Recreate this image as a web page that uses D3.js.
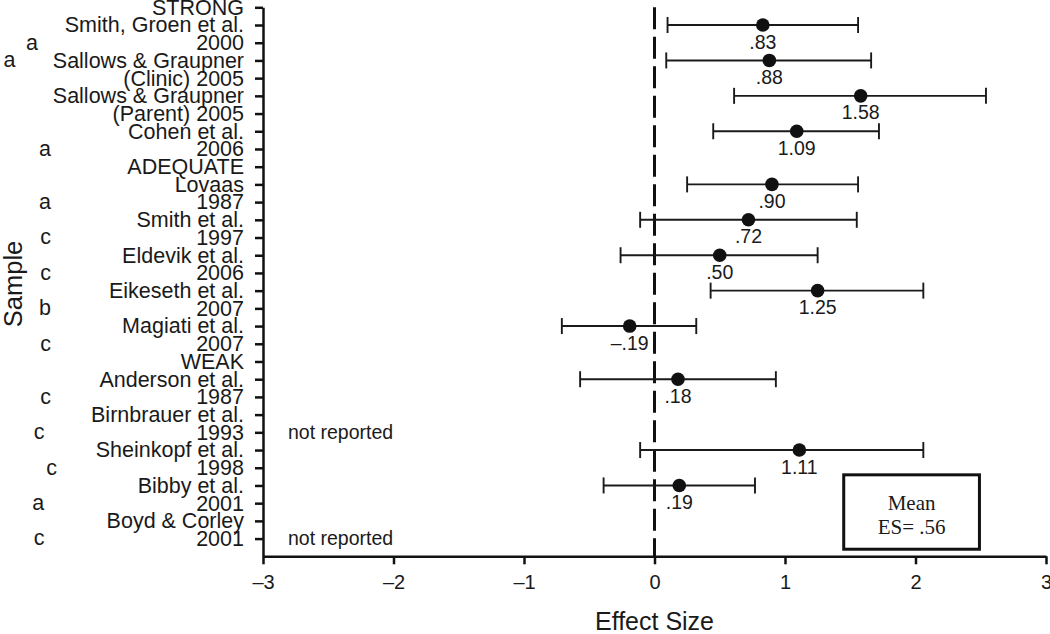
<!DOCTYPE html>
<html>
<head>
<meta charset="utf-8">
<script src="https://cdn.jsdelivr.net/npm/d3@7"></script>
<style>
  html, body { margin: 0; padding: 0; background: #fff; }
  svg { display: block; }
  text { font-family: "Liberation Sans", Arial, sans-serif; fill: #1a1a1a; }
</style>
</head>
<body>
<svg id="chart" width="1050" height="634"></svg>
<script>
// ---------- data ----------
const rowLabels = [
  "STRONG", "Smith, Groen et al.", "2000", "Sallows & Graupner", "(Clinic) 2005",
  "Sallows & Graupner", "(Parent) 2005", "Cohen et al.", "2006", "ADEQUATE",
  "Lovaas", "1987", "Smith et al.", "1997", "Eldevik et al.", "2006",
  "Eikeseth et al.", "2007", "Magiati et al.", "2007", "WEAK",
  "Anderson et al.", "1987", "Birnbrauer et al.", "1993", "Sheinkopf et al.",
  "1998", "Bibby et al.", "2001", "Boyd & Corley", "2001"
];
const studyRows   = [1, 3, 5, 7, 10, 12, 14, 16, 18, 21, 25, 27];
const effectSizes = [0.83, 0.88, 1.58, 1.09, 0.90, 0.72, 0.50, 1.25, -0.19, 0.18, 1.11, 0.19];
const ciLow       = [0.10, 0.09, 0.61, 0.45, 0.25, -0.11, -0.26, 0.43, -0.71, -0.57, -0.11, -0.39];
const ciHigh      = [1.56, 1.66, 2.54, 1.72, 1.56, 1.55, 1.25, 2.06, 0.32, 0.93, 2.06, 0.77];
const esLabels    = [".83", ".88", "1.58", "1.09", ".90", ".72", ".50", "1.25", "\u2013.19", ".18", "1.11", ".19"];
const notReportedRows = [24, 30];
const letterRows  = [2, 3, 8, 11, 13, 15, 17, 19, 22, 24, 26, 28, 30];
const letters     = ["a", "a", "a", "a", "c", "c", "b", "c", "c", "c", "c", "a", "c"];
const xTicks      = [-3, -2, -1, 0, 1, 2, 3];
const meanText    = ["Mean", "ES= .56"];

// ---------- layout ----------
const svg = d3.select("#chart");
const x = d3.scaleLinear().domain([-3, 3]).range([263, 1046]);
const y = d3.scaleLinear().domain([0, 31]).range([7.3, 556.3]);
const letterCenters = [32, 9.5, 45, 45, 45.7, 45.7, 45, 45.7, 45.7, 39, 51.7, 38.3, 39];

// dashed zero line
svg.append("line")
  .attr("x1", x(0)).attr("x2", x(0))
  .attr("y1", y(0)).attr("y2", y(31))
  .attr("stroke", "#111").attr("stroke-width", 3)
  .attr("stroke-dasharray", "22,7.5");

// y axis
const yAxis = d3.axisLeft(y)
  .tickValues(d3.range(rowLabels.length))
  .tickFormat(i => rowLabels[i])
  .tickSize(8).tickSizeOuter(0).tickPadding(11);
const gy = svg.append("g").attr("transform", `translate(${x(-3)},0)`).call(yAxis);
gy.select(".domain").attr("stroke", "#111").attr("stroke-width", 2.5);
gy.selectAll(".tick line").attr("stroke", "#111").attr("stroke-width", 2.5);
gy.selectAll(".tick text").style("font-size", "21.5px").attr("fill", "#1a1a1a")
  .attr("font-family", "Liberation Sans, Arial, sans-serif");

// x axis
const xAxis = d3.axisBottom(x)
  .tickValues(xTicks)
  .tickFormat(d => d < 0 ? "\u2013" + Math.abs(d) : String(d))
  .tickSize(8).tickSizeOuter(0).tickPadding(11);
const gx = svg.append("g").attr("transform", `translate(0,${y(31)})`).call(xAxis);
gx.select(".domain").attr("stroke", "#111").attr("stroke-width", 2.5);
gx.selectAll(".tick line").attr("stroke", "#111").attr("stroke-width", 2.5);
gx.selectAll(".tick text").style("font-size", "20px").attr("fill", "#1a1a1a")
  .attr("font-family", "Liberation Sans, Arial, sans-serif");

// axis titles
svg.append("text")
  .attr("x", x(0)).attr("y", 621)
  .attr("text-anchor", "middle").attr("dominant-baseline", "central")
  .style("font-size", "25px").text("Effect Size");
svg.append("text")
  .attr("transform", `translate(13,${284}) rotate(-90)`)
  .attr("text-anchor", "middle").attr("dominant-baseline", "central")
  .style("font-size", "25.5px").text("Sample");

// letters
svg.selectAll("text.letter").data(letterRows).enter().append("text")
  .attr("class", "letter")
  .attr("x", (d, i) => letterCenters[i])
  .attr("y", d => y(d))
  .attr("dy", "0.32em")
  .attr("text-anchor", "middle")
  .style("font-size", "21.5px")
  .text((d, i) => letters[i]);

// error bars
const idx = d3.range(studyRows.length);
const eb = svg.append("g");
const barStroke = "#1a1a1a", barWidth = 1.9;
eb.selectAll("line.ci").data(idx).enter().append("line")
  .attr("x1", i => x(ciLow[i])).attr("x2", i => x(ciHigh[i]))
  .attr("y1", i => y(studyRows[i])).attr("y2", i => y(studyRows[i]))
  .attr("stroke", barStroke).attr("stroke-width", barWidth);
eb.selectAll("line.capL").data(idx).enter().append("line")
  .attr("x1", i => x(ciLow[i])).attr("x2", i => x(ciLow[i]))
  .attr("y1", i => y(studyRows[i]) - 8).attr("y2", i => y(studyRows[i]) + 8)
  .attr("stroke", barStroke).attr("stroke-width", barWidth);
eb.selectAll("line.capR").data(idx).enter().append("line")
  .attr("x1", i => x(ciHigh[i])).attr("x2", i => x(ciHigh[i]))
  .attr("y1", i => y(studyRows[i]) - 8).attr("y2", i => y(studyRows[i]) + 8)
  .attr("stroke", barStroke).attr("stroke-width", barWidth);
eb.selectAll("circle").data(idx).enter().append("circle")
  .attr("cx", i => x(effectSizes[i])).attr("cy", i => y(studyRows[i]))
  .attr("r", 6.8).attr("fill", "#111");
eb.selectAll("text.es").data(idx).enter().append("text")
  .attr("x", i => x(effectSizes[i])).attr("y", i => y(studyRows[i] + 1) - 1)
  .attr("dy", "0.35em").attr("text-anchor", "middle")
  .style("font-size", "19.5px")
  .text(i => esLabels[i]);

// not reported
svg.selectAll("text.nr").data(notReportedRows).enter().append("text")
  .attr("x", 288).attr("y", d => y(d))
  .attr("dy", "0.32em")
  .style("font-size", "19.5px")
  .text("not reported");

// mean box
const bx0 = x(1.45), bx1 = x(2.49), by0 = y(26.4), by1 = y(30.6);
svg.append("rect")
  .attr("x", bx0).attr("y", by0).attr("width", bx1 - bx0).attr("height", by1 - by0)
  .attr("fill", "#fff").attr("stroke", "#111").attr("stroke-width", 3);
svg.selectAll("text.mean").data(meanText).enter().append("text")
  .attr("x", (bx0 + bx1) / 2)
  .attr("y", (d, i) => (i === 0 ? 503 : 526.5))
  .attr("dy", "0.35em").attr("text-anchor", "middle")
  .style("font-family", "'Liberation Serif', 'Times New Roman', serif")
  .style("font-size", "21px")
  .text(d => d);
</script>
</body>
</html>
